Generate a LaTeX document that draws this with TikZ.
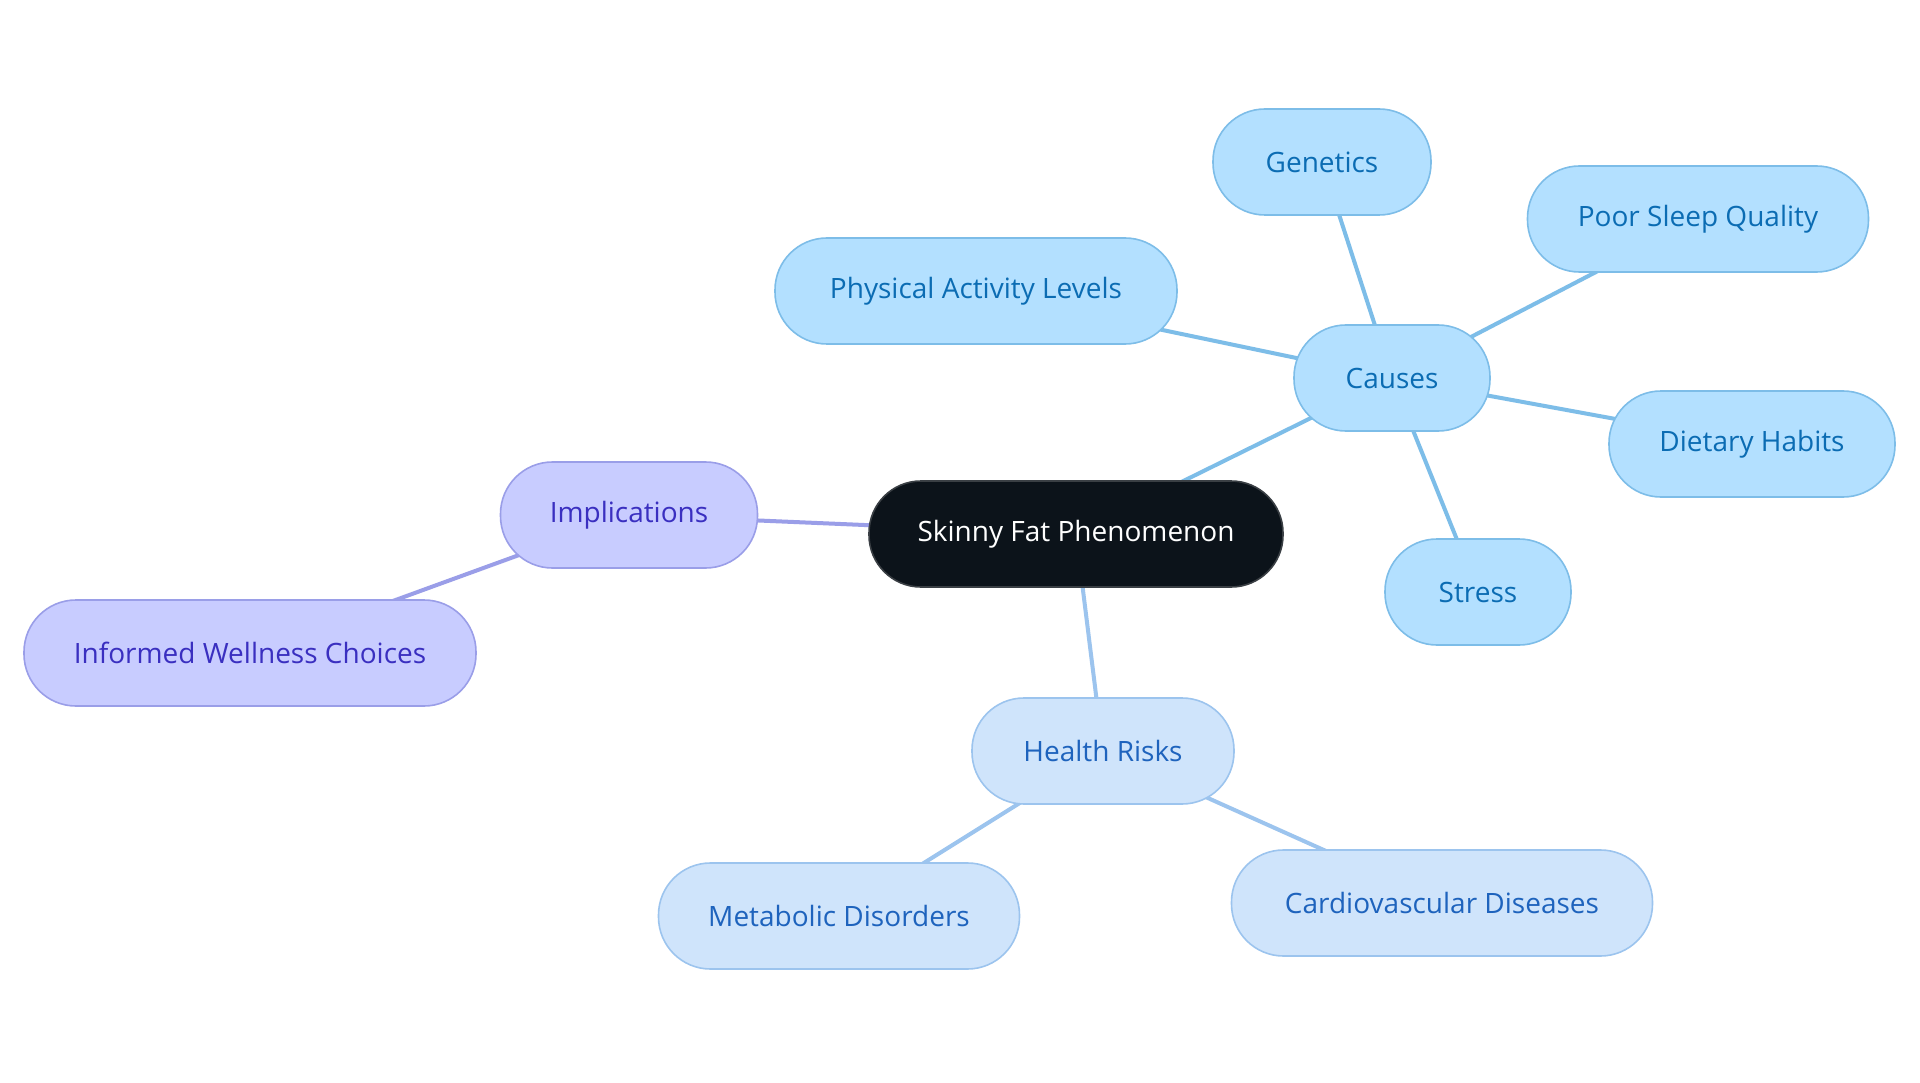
\documentclass[tikz,border=0pt]{standalone}
\usepackage{fontspec}
\setmainfont{Open Sans}
\usetikzlibrary{backgrounds}
\definecolor{rootfill}{HTML}{0C131A}
\definecolor{rootdraw}{HTML}{3A3F44}
\definecolor{cfill}{HTML}{B3E0FF}
\definecolor{cdraw}{HTML}{7DBDE8}
\definecolor{ctext}{HTML}{0B6CB3}
\definecolor{ifill}{HTML}{C8CCFF}
\definecolor{idraw}{HTML}{9A9EE8}
\definecolor{itext}{HTML}{3A2FC0}
\definecolor{hfill}{HTML}{CFE4FB}
\definecolor{hdraw}{HTML}{9CC4EE}
\definecolor{htext}{HTML}{1E63BD}
\tikzset{
  pill/.style={rounded corners=52pt, minimum height=106pt, inner sep=0pt, line width=1.6pt, font=\fontsize{28}{32}\selectfont},
  rootnode/.style={pill, fill=rootfill, draw=rootdraw, text=white},
  cnode/.style={pill, fill=cfill, draw=cdraw, text=ctext},
  inode/.style={pill, fill=ifill, draw=idraw, text=itext},
  hnode/.style={pill, fill=hfill, draw=hdraw, text=htext},
  cedge/.style={draw=cdraw, line width=4pt},
  iedge/.style={draw=idraw, line width=4pt},
  hedge/.style={draw=hdraw, line width=4pt},
}
\begin{document}
\begin{tikzpicture}[x=1pt,y=-1pt]
\useasboundingbox (0,0) rectangle (1920,1083);
\node[rootnode, minimum width=414pt] (root) at (1076,534) {Skinny Fat Phenomenon};
\node[cnode, minimum width=196pt] (causes) at (1392,378) {Causes};
\node[cnode, minimum width=218pt] (gen) at (1322,162) {Genetics};
\node[cnode, minimum width=341pt] (sleep) at (1698,219) {Poor Sleep Quality};
\node[cnode, minimum width=402pt] (phys) at (976,291) {Physical Activity Levels};
\node[cnode, minimum width=286pt] (diet) at (1752,444) {Dietary Habits};
\node[cnode, minimum width=186pt] (stress) at (1478,592) {Stress};
\node[inode, minimum width=257pt] (impl) at (629,515) {Implications};
\node[inode, minimum width=452pt] (inf) at (250,653) {Informed Wellness Choices};
\node[hnode, minimum width=262pt] (health) at (1103,751) {Health Risks};
\node[hnode, minimum width=361pt] (meta) at (839,916) {Metabolic Disorders};
\node[hnode, minimum width=421pt] (cardio) at (1442,903) {Cardiovascular Diseases};
\begin{scope}[on background layer]
\fill[white] (0,0) rectangle (1920,1083);
\draw[cedge] (root.center) -- (causes.center);
\draw[cedge] (causes.center) -- (gen.center);
\draw[cedge] (causes.center) -- (sleep.center);
\draw[cedge] (causes.center) -- (phys.center);
\draw[cedge] (causes.center) -- (diet.center);
\draw[cedge] (causes.center) -- (stress.center);
\draw[iedge] (root.center) -- (impl.center);
\draw[iedge] (impl.center) -- (inf.center);
\draw[hedge] (root.center) -- (health.center);
\draw[hedge] (health.center) -- (meta.center);
\draw[hedge] (health.center) -- (cardio.center);
\end{scope}
\end{tikzpicture}
\end{document}
